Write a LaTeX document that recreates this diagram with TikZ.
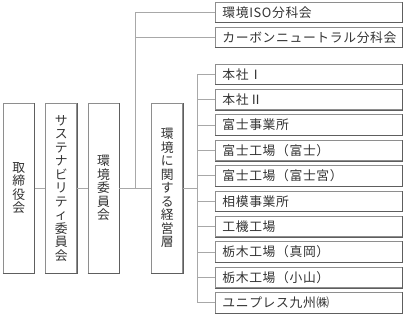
\documentclass[tikz,border=0pt]{standalone}
\usepackage{fontspec}
\newfontfamily\jp{Noto Sans CJK JP}
\newfontfamily\jpls[LetterSpace=5]{Noto Sans CJK JP}
\definecolor{bordc}{HTML}{8E8E8E}
\definecolor{shadc}{HTML}{5E5E5E}
\definecolor{linec}{HTML}{A8A8A8}
\definecolor{txtc}{HTML}{333333}
\tikzset{
  hbox/.style={draw=bordc, line width=0.8pt, text=txtc, font=\jpls\fontsize{12.8}{13.5}\selectfont,
    text width=173pt, inner xsep=7pt, inner ysep=0pt, align=left, minimum height=20.5pt, anchor=west},
  vbox/.style={draw=bordc, line width=0.8pt, text=txtc, font=\jp\fontsize{12.8}{13.5}\selectfont,
    minimum width=31pt, minimum height=170pt, inner sep=0pt, align=center},
  shad/.style={draw=shadc, line width=1.1pt},
  conn/.style={draw=linec, line width=0.8pt}
}
\begin{document}
\begin{tikzpicture}[x=1pt,y=-1pt]
\useasboundingbox (0,0) rectangle (405,318);
% vertical boxes
\node[vbox] (tori) at (18.8,188.3) {取\\締\\役\\会};
\node[vbox] (sus) at (61.2,188.3) {サ\\ス\\テ\\ナ\\ビ\\リ\\テ\\ィ\\委\\員\\会};
\node[vbox] (kan) at (103.4,188.3) {環\\境\\委\\員\\会};
\node[vbox] (kei) at (167.2,188.3) {環\\境\\に\\関\\す\\る\\経\\営\\層};
% upper boxes
\node[hbox] (iso) at (215,12.3) {環境ISO分科会};
\node[hbox] (cbn) at (215,37.3) {カーボンニュートラル分科会};
% lower boxes
\foreach \t [count=\i from 0] in {本社Ⅰ,本社Ⅱ,富士事業所,富士工場（富士）,富士工場（富士宮）,相模事業所,工機工場,栃木工場（真岡）,栃木工場（小山）,ユニプレス九州㈱}{
  \node[hbox] (b\i) at (215,74.25+25.4*\i) {\t};
}
% shadows
\foreach \n in {tori,sus,kan,kei,iso,cbn,b0,b1,b2,b3,b4,b5,b6,b7,b8,b9}{
  \draw[shad] (\n.south west) -- (\n.south east) -- (\n.north east);
}
% connectors
\coordinate (ja) at (135,188.3);
\coordinate (jb) at (197.8,188.3);
\draw[conn] (tori.east) -- (sus.west);
\draw[conn] (sus.east) -- (kan.west);
\draw[conn] (kan.east) -- (kei.west);
\draw[conn] (ja) |- (iso.west);
\draw[conn] (cbn.west) -- (cbn.west -| ja);
\draw[conn] (kei.east) -- (jb);
\draw[conn] (b0.west -| jb) -- (b9.west -| jb);
\foreach \i in {0,...,9}{
  \draw[conn] (b\i.west) -- (b\i.west -| jb);
}
\end{tikzpicture}
\end{document}
